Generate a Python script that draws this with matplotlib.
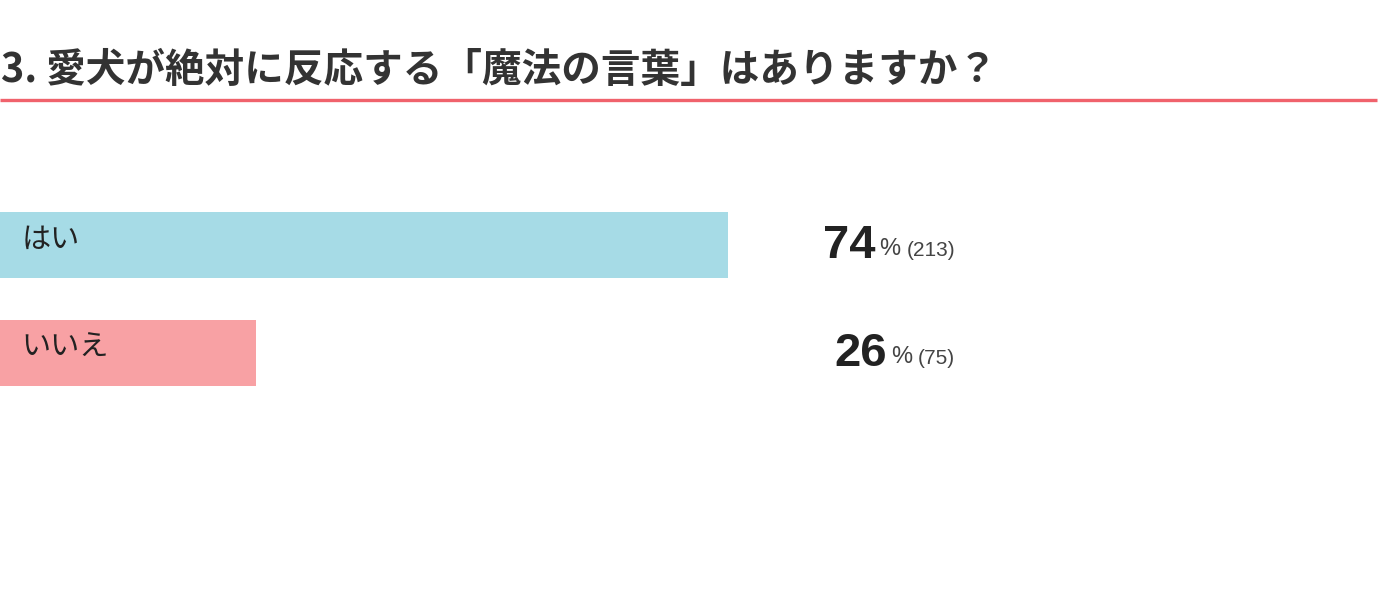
import matplotlib.pyplot as plt

plt.rcParams['font.family'] = ['Noto Sans CJK JP', 'DejaVu Sans']

# data
title = "3. 愛犬が絶対に反応する「魔法の言葉」はありますか？"
answers = ["はい", "いいえ"]
percents = [74, 26]
counts = [213, 75]
colors = ["#a6dbe6", "#f8a1a4"]

W, H = 1396, 594
fig = plt.figure(figsize=(W / 100, H / 100), dpi=100)
ax = fig.add_axes([0, 0, 1, 1])
# x in percent (100% ~ 984 px), y in pixels from top
ax.set_xlim(0, W / 9.84)
ax.set_ylim(H, 0)
ax.axis('off')

rows = [245, 353]
ax.barh(rows, percents, height=66, color=colors, edgecolor='none')

# title and red rule
ax.text(0.1, 71, title, fontsize=28.5, fontweight='bold', color='#333333',
        va='center', ha='left')
ax.plot([0, 1377 / 9.84], [100, 100], color='#f0626c', lw=2.4, solid_capstyle='butt')

fig.canvas.draw()
r = fig.canvas.get_renderer()
inv = ax.transData.inverted()

for y, a, p, c in zip(rows, answers, percents, counts):
    ax.text(2.2, y - 5, a, fontsize=21, color='#222222', va='center', ha='left')
    t1 = ax.text(955 / 9.84, y + 6, f"({c})", fontsize=15, color='#444444',
                 va='center', ha='right', family=['Liberation Sans'])
    bb = t1.get_window_extent(renderer=r)
    x1 = inv.transform((bb.x0 - 6, 0))[0]
    t2 = ax.text(x1, y + 4, "%", fontsize=17, color='#444444', va='center', ha='right',
                 family=['Liberation Sans'])
    bb = t2.get_window_extent(renderer=r)
    x2 = inv.transform((bb.x0 - 4, 0))[0]
    ax.text(x2, y + 1, str(p), fontsize=34, fontweight='bold', color='#222222',
            va='center', ha='right', family=['Liberation Sans'])

fig.savefig('out.png', dpi=100)
